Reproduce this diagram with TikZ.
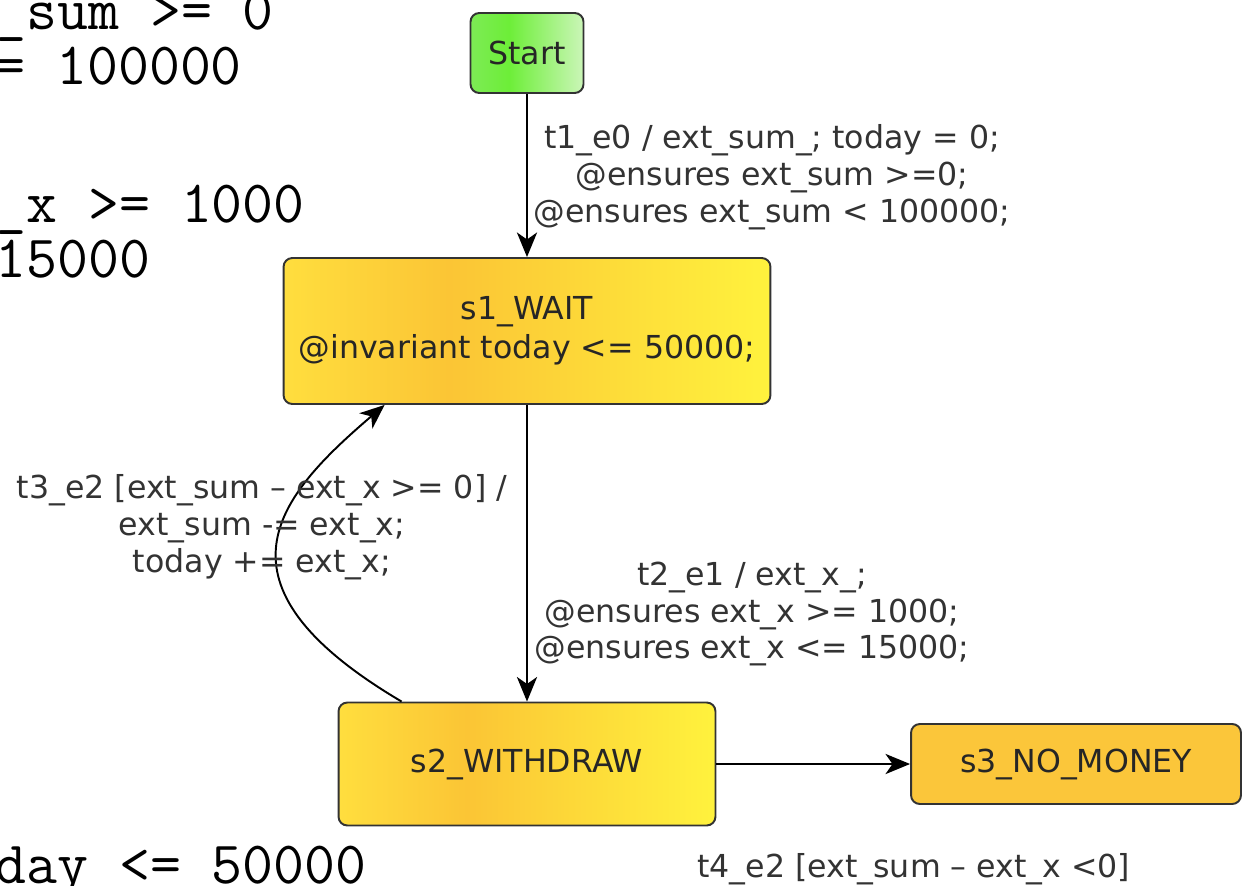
\documentclass[tikz,border=0pt]{standalone}
\usepackage{fontspec}
\setmainfont{DejaVu Sans}
\usetikzlibrary{arrows.meta,calc}
\definecolor{greenleft}{HTML}{7DEB55}
\definecolor{greenpeak}{HTML}{6DEE38}
\definecolor{greenpale}{HTML}{CBF6B8}
\definecolor{amberleft}{HTML}{FFDE3E}
\definecolor{amberpeak}{HTML}{FBC535}
\definecolor{amberright}{HTML}{FFF23D}
\definecolor{nomoney}{HTML}{FBC63A}
\pgfdeclarehorizontalshading{startfade}{100bp}{color(0bp)=(greenleft); color(25bp)=(greenleft); color(42bp)=(greenpeak); color(75bp)=(greenpale); color(100bp)=(greenpale)}
\pgfdeclarehorizontalshading{statefade}{100bp}{color(0bp)=(amberleft); color(25bp)=(amberleft); color(42bp)=(amberpeak); color(75bp)=(amberright); color(100bp)=(amberright)}
\begin{document}
\begin{tikzpicture}[x=0.02cm,y=-0.02cm,
  state/.style={draw=black!80,line width=1.1pt,rounded corners=5pt,inner sep=0pt,align=center,text=black!85,font=\fontsize{18pt}{22pt}\selectfont},
  trans/.style={align=center,inner sep=0pt,text=black!80,font=\fontsize{18pt}{21pt}\selectfont},
  code/.style={anchor=base west,inner sep=0pt,font=\fontsize{34.2pt}{36pt}\selectfont\ttfamily},
  flow/.style={->,line width=1.1pt},
  >={Stealth[length=14pt,width=11.5pt,inset=4pt]}]
\useasboundingbox (0,0) rectangle (1243,885);
\clip (0,0) rectangle (1243,885);
\fill[white] (0,0) rectangle (1243,885);
\node[code] (sumlow) at (-5,30) {\_sum >= 0};
\node[code] (sumhigh) at (-6,85) {= 100000};
\node[code] (xlow) at (-5,222) {\_x >= 1000};
\node[code] (xhigh) at (-5,277) {15000};
\node[code] (daycap) at (-5,883) {day <= 50000};
\node[state,shading=startfade,minimum width=2.26cm,minimum height=1.6cm] (start) at (527,53) {Start};
\node[state,shading=statefade,minimum width=9.74cm,minimum height=2.92cm] (wait) at (527,331) {s1\_WAIT\\@invariant today <= 50000;};
\node[state,shading=statefade,minimum width=7.54cm,minimum height=2.46cm] (withdraw) at (527,764) {s2\_WITHDRAW};
\node[state,fill=nomoney,minimum width=6.6cm,minimum height=1.6cm] (nomoney) at (1076,764) {s3\_NO\_MONEY};
\draw[flow] (start) -- (wait);
\draw[flow] (wait) -- (withdraw);
\draw[flow] (withdraw) -- (nomoney);
\draw[flow] ($(withdraw.north west)+(64,0)$) .. controls (201,583) and (278,496) .. ($(wait.south west)+(102,0)$);
\node[trans] (initlbl) at (772,177) {t1\_e0 / ext\_sum\_; today = 0;\\@ensures ext\_sum >=0;\\@ensures ext\_sum < 100000;};
\node[trans] (grantlbl) at (752,614) {t2\_e1 / ext\_x\_;\\@ensures ext\_x >= 1000;\\@ensures ext\_x <= 15000;};
\node[trans] (paylbl) at (262,527) {t3\_e2 [ext\_sum – ext\_x >= 0] /\\ext\_sum -= ext\_x;\\today += ext\_x;};
\node[trans,anchor=base west] (emptylbl) at (697,877) {t4\_e2 [ext\_sum – ext\_x <0]};
\end{tikzpicture}
\end{document}
